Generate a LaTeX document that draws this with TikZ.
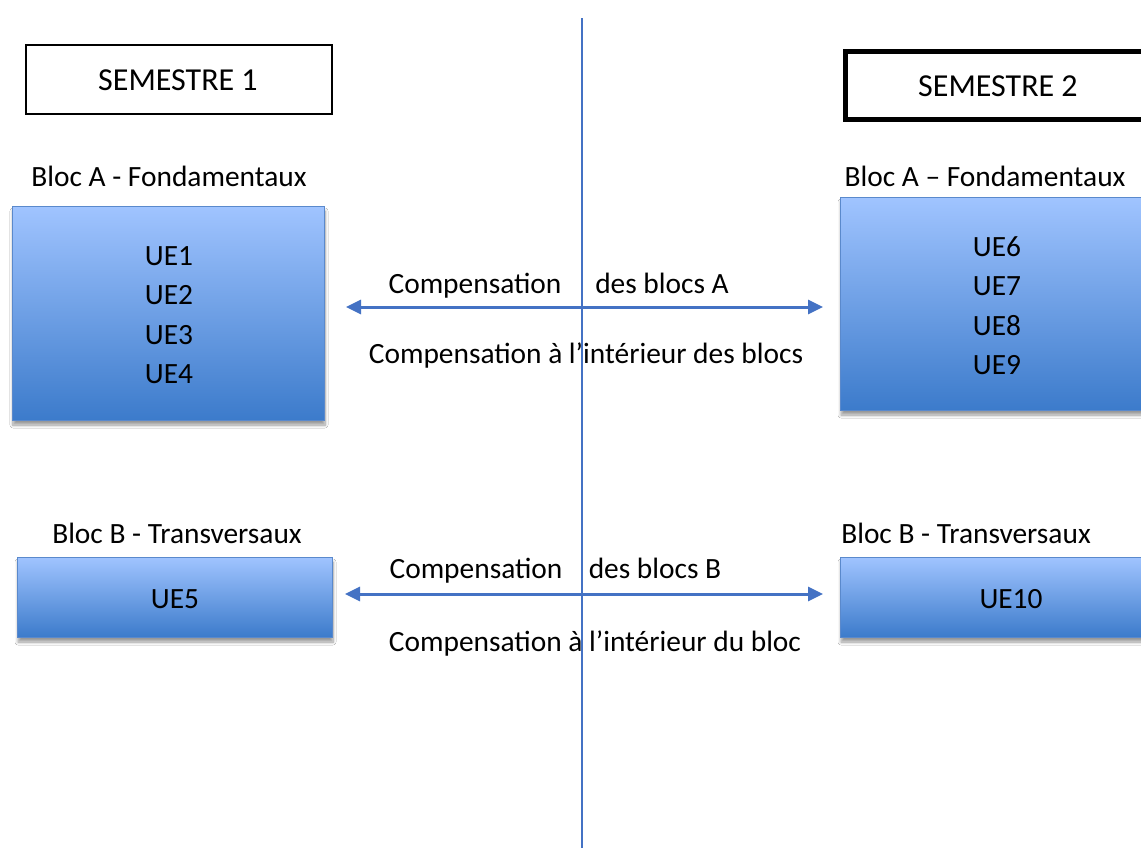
\documentclass[tikz,border=0pt]{standalone}
\usepackage{fontspec}
\setmainfont{Carlito}
\usetikzlibrary{arrows.meta,shadows.blur}
\definecolor{lineblue}{HTML}{4472C4}
\definecolor{boxtop}{HTML}{A0C4FF}
\definecolor{boxbot}{HTML}{3C7BCB}
\definecolor{boxedge}{HTML}{5A89CC}
\tikzset{
  txt/.style={font=\fontsize{29.4}{39.5}\selectfont, anchor=base, inner sep=0pt},
  semtxt/.style={txt, font=\fontsize{32}{38}\selectfont},
  semester/.style={draw=black, line width=2pt, minimum height=69pt, inner sep=0pt},
  uebox/.style={draw=boxedge, line width=0.8pt, top color=boxtop, bottom color=boxbot,
     inner sep=0pt, blur shadow={shadow xshift=1pt, shadow yshift=-5pt, shadow opacity=40, shadow blur radius=3pt, shadow blur steps=8}},
  comp/.style={draw=lineblue, line width=3pt, {Triangle[length=15pt,width=14pt]}-{Triangle[length=15pt,width=14pt]}}
}
\begin{document}
\begin{tikzpicture}[x=1pt,y=-1pt]
\useasboundingbox (0,0) rectangle (1141,847);
\clip (0,0) rectangle (1141,847);
\fill[white] (0,0) rectangle (1141,847);

% semester boxes
\node[semester, minimum width=306pt] (s1) at (179,79.5) {};
\node[semtxt] (s1t) at (178,90) {SEMESTRE 1};
\node[semester, line width=5pt, minimum width=306pt, minimum height=68pt] (s2) at (998,85) {};
\node[semtxt] (s2t) at (998,96.5) {SEMESTRE 2};

% block labels
\node[txt] (la) at (169,186) {Bloc A - Fondamentaux};
\node[txt] (ra) at (985,186) {Bloc A – Fondamentaux};
\node[txt] (lb) at (177,543) {Bloc B - Transversaux};
\node[txt] (rb) at (966,543) {Bloc B - Transversaux};

% UE boxes
\node[uebox, minimum width=312pt, minimum height=214pt] (a1) at (168,313) {};
\node[uebox, minimum width=314pt, minimum height=213pt] (a2) at (997,303.5) {};
\node[uebox, minimum width=315pt, minimum height=80pt] (b1) at (174.5,597) {};
\node[uebox, minimum width=342pt, minimum height=80pt] (b2) at (1011,597) {};

\node[txt] (ue1) at (169,265) {UE1};
\node[txt] (ue2) at (169,304.5) {UE2};
\node[txt] (ue3) at (169,344) {UE3};
\node[txt] (ue4) at (169,383.5) {UE4};
\node[txt] (ue6) at (997,256) {UE6};
\node[txt] (ue7) at (997,295.5) {UE7};
\node[txt] (ue8) at (997,335) {UE8};
\node[txt] (ue9) at (997,374.5) {UE9};
\node[txt] (ue5) at (175,608) {UE5};
\node[txt] (ue10) at (1011,608) {UE10};

% vertical separator
\coordinate (vtop) at (582,18);
\coordinate (vbot) at (582,850);
\draw[lineblue, line width=2.8pt] (vtop) -- (vbot);

% compensation arrows
\coordinate (aL) at (346,307);
\coordinate (aR) at (823,307);
\draw[comp] (aL) -- (aR);
\coordinate (bL) at (345,594);
\coordinate (bR) at (823,594);
\draw[comp] (bL) -- (bR);

% compensation labels
\node[txt] (ca1) at (475,293) {Compensation};
\node[txt] (ca2) at (662,293) {des blocs A};
\node[txt] (ca3) at (586,363) {Compensation à l’intérieur des blocs};
\node[txt] (cb1) at (476,578) {Compensation};
\node[txt] (cb2) at (655,578) {des blocs B};
\node[txt] (cb3) at (595,651) {Compensation à l’intérieur du bloc};
\end{tikzpicture}
\end{document}
